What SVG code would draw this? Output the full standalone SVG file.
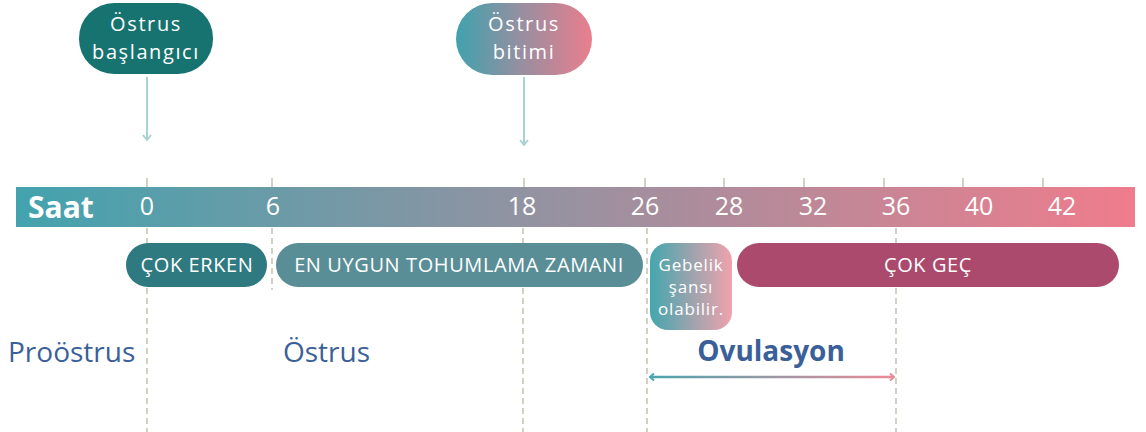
<svg xmlns="http://www.w3.org/2000/svg" width="1146" height="432" viewBox="0 0 1146 432">
<defs>
<linearGradient id="barG" x1="0" y1="0" x2="1" y2="0"><stop offset="0" stop-color="#42a3ae"/><stop offset="0.5" stop-color="#9a91a0"/><stop offset="1" stop-color="#ef7c8c"/></linearGradient>
<linearGradient id="pillG" x1="0" y1="0" x2="1" y2="0"><stop offset="0" stop-color="#40a2ad"/><stop offset="0.5" stop-color="#9a8ea0"/><stop offset="1" stop-color="#ea7e8d"/></linearGradient>
<linearGradient id="gebG" x1="0" y1="0" x2="1" y2="0"><stop offset="0" stop-color="#44a6ae"/><stop offset="0.5" stop-color="#9aa4ae"/><stop offset="1" stop-color="#f0a2ad"/></linearGradient>
<linearGradient id="ovG" gradientUnits="userSpaceOnUse" x1="648" y1="0" x2="896" y2="0"><stop offset="0" stop-color="#4aa5ad"/><stop offset="0.5" stop-color="#9a97a4"/><stop offset="1" stop-color="#ee8a98"/></linearGradient>
<marker id="arrDown" viewBox="0 0 10 10" refX="8" refY="5" markerWidth="10" markerHeight="10" markerUnits="userSpaceOnUse" orient="auto"><path d="M3,1 L8,5 L3,9" fill="none" stroke="#a9d3d1" stroke-width="2"/></marker>
<marker id="ovEnd" viewBox="0 0 10 10" refX="8" refY="5" markerWidth="10" markerHeight="10" markerUnits="userSpaceOnUse" orient="auto"><path d="M4,1.5 L8,5 L4,8.5" fill="none" stroke="#e58a98" stroke-width="2"/></marker>
<marker id="ovStart" viewBox="0 0 10 10" refX="2" refY="5" markerWidth="10" markerHeight="10" markerUnits="userSpaceOnUse" orient="0"><path d="M6,1.5 L2,5 L6,8.5" fill="none" stroke="#4aa5ad" stroke-width="2"/></marker>
</defs>
<style>
text{font-family:"Open Sans","Noto Sans",sans-serif;}
.w{fill:#ffffff;}
.tk{stroke:#d3d0c4;stroke-width:2;}
.dash{stroke:#d3d0c4;stroke-width:2;stroke-dasharray:6 4;fill:none;}
.num{font-size:25px;fill:#ffffff;text-anchor:middle;}
.pl{font-size:20px;letter-spacing:0.6px;fill:#ffffff;text-anchor:middle;}
.top{font-size:20px;letter-spacing:1.6px;fill:#ffffff;text-anchor:middle;}
.geb{font-size:17px;letter-spacing:0.8px;fill:#ffffff;text-anchor:middle;}
.ph{font-size:28px;fill:#3b5f99;}
</style>
<g id="guides">
<line class="tk" x1="147" y1="178" x2="147" y2="187"/>
<line class="tk" x1="272" y1="178" x2="272" y2="187"/>
<line class="tk" x1="524" y1="178" x2="524" y2="187"/>
<line class="tk" x1="645" y1="178" x2="645" y2="187"/>
<line class="tk" x1="724" y1="178" x2="724" y2="187"/>
<line class="tk" x1="804" y1="178" x2="804" y2="187"/>
<line class="tk" x1="884" y1="178" x2="884" y2="187"/>
<line class="tk" x1="963" y1="178" x2="963" y2="187"/>
<line class="tk" x1="1043" y1="178" x2="1043" y2="187"/>
<line class="dash" x1="147" y1="228" x2="147" y2="432"/>
<line class="dash" x1="272" y1="228" x2="272" y2="290"/>
<line class="dash" x1="523" y1="228" x2="523" y2="432"/>
<line class="dash" x1="647" y1="228" x2="647" y2="432"/>
<line class="dash" x1="896" y1="228" x2="896" y2="432"/>
</g>
<g id="bar">
<rect x="16" y="187" width="1119" height="40" fill="url(#barG)"/>
<text x="28" y="218" font-size="30" font-weight="bold" class="w">Saat</text>
<text class="num" x="147" y="215">0</text>
<text class="num" x="273" y="215">6</text>
<text class="num" x="522" y="215">18</text>
<text class="num" x="645" y="215">26</text>
<text class="num" x="729" y="215">28</text>
<text class="num" x="813" y="215">32</text>
<text class="num" x="896" y="215">36</text>
<text class="num" x="979" y="215">40</text>
<text class="num" x="1062" y="215">42</text>
</g>
<g id="connectors">
<line x1="147" y1="77" x2="147" y2="140" stroke="#a9d3d1" stroke-width="2" marker-end="url(#arrDown)"/>
<line x1="524" y1="77" x2="524" y2="145" stroke="#a9d3d1" stroke-width="2" marker-end="url(#arrDown)"/>
<line x1="650" y1="377" x2="894" y2="377" stroke="url(#ovG)" stroke-width="2.5" marker-start="url(#ovStart)" marker-end="url(#ovEnd)"/>
</g>
<g id="node-ostrus-baslangici">
<rect x="79" y="3" width="134" height="71" rx="35" fill="#177370"/>
<text class="top" x="146" y="31">Östrus</text>
<text class="top" x="146" y="59">başlangıcı</text>
</g>
<g id="node-ostrus-bitimi">
<rect x="456" y="3" width="136" height="72" rx="36" fill="url(#pillG)"/>
<text class="top" x="524" y="31">Östrus</text>
<text class="top" x="524" y="59">bitimi</text>
</g>
<g id="node-cok-erken">
<rect x="126" y="243" width="141" height="44" rx="22" fill="#2e7a80"/>
<text class="pl" x="197" y="272">ÇOK ERKEN</text>
</g>
<g id="node-en-uygun">
<rect x="276" y="243" width="367" height="44" rx="22" fill="#5a8e97"/>
<text class="pl" x="459" y="272">EN UYGUN TOHUMLAMA ZAMANI</text>
</g>
<g id="node-gebelik">
<rect x="650" y="243" width="82" height="87" rx="18" fill="url(#gebG)"/>
<text class="geb" x="691" y="271">Gebelik</text>
<text class="geb" x="691" y="293">şansı</text>
<text class="geb" x="691" y="315">olabilir.</text>
</g>
<g id="node-cok-gec">
<rect x="737" y="243" width="382" height="44" rx="22" fill="#ab4a6c"/>
<text class="pl" x="928" y="272">ÇOK GEÇ</text>
</g>
<g id="labels">
<text class="ph" x="8" y="362">Proöstrus</text>
<text class="ph" x="283" y="362">Östrus</text>
<text class="ph" x="771" y="361" font-size="27" font-weight="bold" text-anchor="middle">Ovulasyon</text>
</g>
</svg>
